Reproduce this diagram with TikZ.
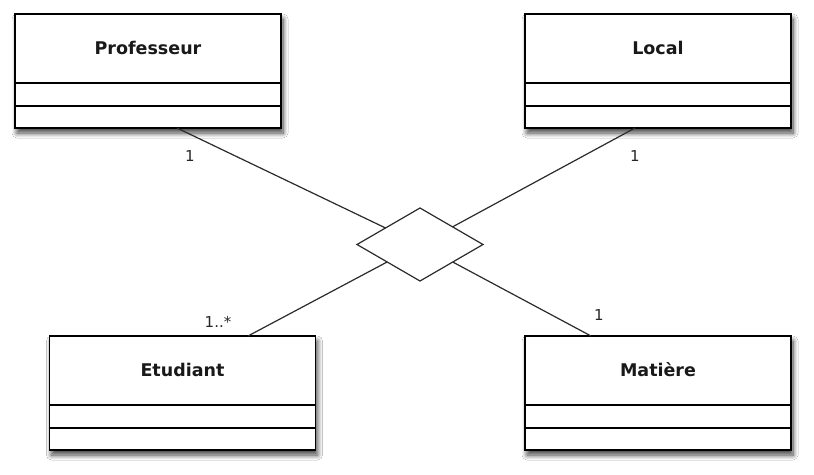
\documentclass[tikz,border=0pt]{standalone}
\usepackage{fontspec}
\setmainfont{DejaVu Sans}
\usetikzlibrary{shapes.geometric,shadows.blur}
\definecolor{linec}{HTML}{2B2B2B}
\tikzset{
  classbox/.style={draw=black, line width=1.2pt, fill=white, minimum width=266pt, minimum height=114pt,
    inner sep=0pt, outer sep=0pt,
    blur shadow={shadow xshift=2pt, shadow yshift=-5pt, shadow blur radius=5pt, shadow blur steps=10, shadow opacity=75}},
  divider/.style={draw=black, line width=1.1pt},
  title/.style={font=\bfseries\fontsize{17.5}{19}\selectfont, text=black!90},
  conn/.style={draw=linec, line width=1.2pt},
  mult/.style={font=\fontsize{15}{17}\selectfont, text=black!85},
  assoc/.style={draw=linec, line width=1.2pt, fill=white, shape=diamond, minimum width=126pt, minimum height=73pt, inner sep=0pt, outer sep=0pt}
}
\begin{document}
\begin{tikzpicture}[x=1pt,y=-1pt]
\useasboundingbox[fill=white] (0,0) rectangle (814,474);
% classes
\node[classbox] (p) at (148,71) {};
\node[classbox] (l) at (658,71) {};
\node[classbox] (e) at (182.5,393) {};
\node[classbox] (m) at (658,393) {};
\foreach \n in {p,l,e,m}{
  \draw[divider] ([yshift=22pt]\n.south west) -- ([yshift=22pt]\n.south east);
  \draw[divider] ([yshift=45pt]\n.south west) -- ([yshift=45pt]\n.south east);
}
\node[title] (pt) at ([yshift=-34pt]p.north) {Professeur};
\node[title] (lt) at ([yshift=-34pt]l.north) {Local};
\node[title] (et) at ([yshift=-34pt]e.north) {Etudiant};
\node[title] (mt) at ([yshift=-34pt]m.north) {Matière};
% association
\node[assoc] (d) at (420,244.5) {};
\coordinate (pc) at ([xshift=29pt]p.south);
\coordinate (lc) at ([xshift=-23pt]l.south);
\coordinate (ec) at ([xshift=65.5pt]e.north);
\coordinate (mc) at ([xshift=-67pt]m.north);
\draw[conn] (pc) -- (d);
\draw[conn] (lc) -- (d);
\draw[conn] (ec) -- (d);
\draw[conn] (mc) -- (d);
% multiplicities
\node[mult] (m1) at (190,156) {1};
\node[mult] (m2) at (635,156) {1};
\node[mult] (m3) at (218,322) {1..*};
\node[mult] (m4) at (599,315) {1};
\end{tikzpicture}
\end{document}
